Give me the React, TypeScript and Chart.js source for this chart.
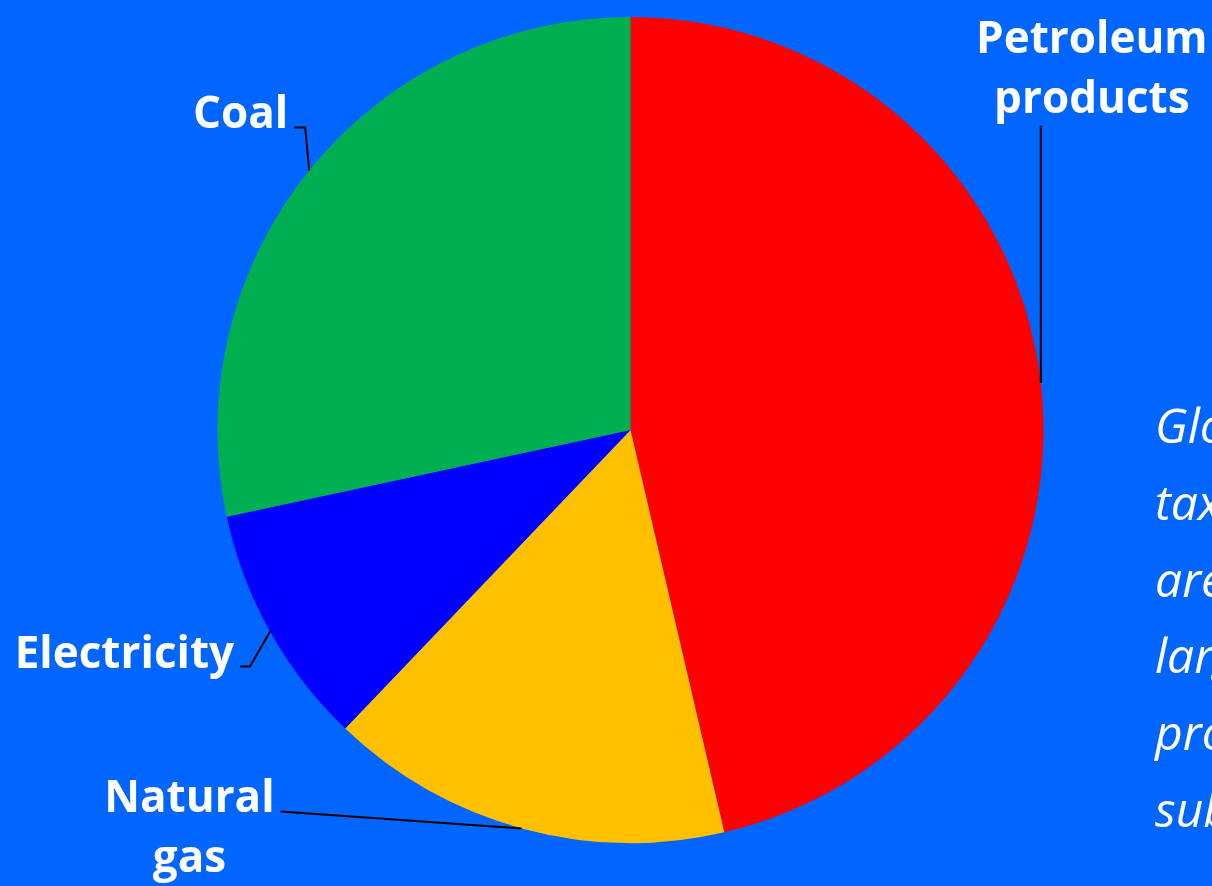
import React, { useEffect, useRef } from "react";
import { Chart, registerables } from "chart.js";

Chart.register(...registerables);

const categories = ["Petroleum products", "Natural gas", "Electricity", "Coal"];
const shares = [46.4, 15.8, 9.5, 28.4];
const colors = ["#FF0000", "#FFC000", "#0000FF", "#00B050"];
const labelLines = [["Petroleum", "products"], ["Natural", "gas"], ["Electricity"], ["Coal"]];
const sideText = ["Globally,", "taxes", "are", "largely", "producer", "subsidies"];

// leader geometry per slice: elbow offset from the slice's outer mid point, horizontal tail, text placement
const leaders = [
  { elbow: [0, -257], tail: 0, place: "above", tx: 51, ty: -13 },
  { elbow: [-241, -17], tail: 0, place: "left" },
  { elbow: [-20, 35], tail: -10, place: "left" },
  { elbow: [-4, -43], tail: -11, place: "left" },
];

const FONT = "bold 44px 'Open Sans', 'Noto Sans', sans-serif";
const LINE_H = 60;

const labelPlugin = {
  id: "leaderLabels",
  afterDraw(chart: any) {
    const ctx = chart.ctx;
    const meta = chart.getDatasetMeta(0);
    ctx.save();
    meta.data.forEach((arc: any, i: number) => {
      const cfg = leaders[i];
      const mid = (arc.startAngle + arc.endAngle) / 2;
      const ax = arc.x + Math.cos(mid) * arc.outerRadius;
      const ay = arc.y + Math.sin(mid) * arc.outerRadius;
      const ex = ax + cfg.elbow[0];
      const ey = ay + cfg.elbow[1];
      const tx = ex + cfg.tail;
      ctx.strokeStyle = "#000000";
      ctx.lineWidth = 2;
      ctx.beginPath();
      ctx.moveTo(ax, ay);
      ctx.lineTo(ex, ey);
      if (cfg.tail) ctx.lineTo(tx, ey);
      ctx.stroke();

      ctx.font = FONT;
      ctx.fillStyle = "#FFFFFF";
      ctx.textAlign = "center";
      ctx.textBaseline = "alphabetic";
      const lines = labelLines[i];
      const maxW = Math.max(...lines.map((l) => ctx.measureText(l).width));
      if (cfg.place === "above") {
        const cx = tx + (cfg.tx || 0);
        const lastBase = ey + (cfg.ty || 0);
        lines.forEach((l, k) => {
          ctx.fillText(l, cx, lastBase - (lines.length - 1 - k) * LINE_H);
        });
      } else {
        const cx = tx - 6 - maxW / 2;
        lines.forEach((l, k) => {
          ctx.fillText(l, cx, ey + 1 + k * LINE_H);
        });
      }
    });
    ctx.restore();
  },
};

export default function App() {
  const ref = useRef<HTMLCanvasElement>(null);
  useEffect(() => {
    if (!ref.current) return;
    const chart = new Chart(ref.current, {
      type: "pie",
      data: {
        labels: categories,
        datasets: [
          {
            data: shares,
            backgroundColor: colors,
            borderWidth: 0,
          },
        ],
      },
      options: {
        responsive: false,
        animation: false,
        layout: { padding: { left: 217, right: 168, top: 17, bottom: 43 } },
        plugins: { legend: { display: false }, tooltip: { enabled: false } },
      },
      plugins: [labelPlugin],
    });
    return () => chart.destroy();
  }, []);

  return (
    <div
      style={{
        position: "fixed",
        left: 0,
        top: 0,
        width: 1212,
        height: 886,
        background: "#0066FF",
        overflow: "hidden",
      }}
    >
      <canvas ref={ref} width={1212} height={886} style={{ position: "absolute", left: 0, top: 0 }} />
      <div
        style={{
          position: "absolute",
          left: 1155,
          top: 387,
          fontFamily: "'Open Sans', 'Noto Sans', sans-serif",
          fontStyle: "italic",
          fontSize: 48,
          lineHeight: "76.8px",
          color: "#FFFFFF",
          whiteSpace: "nowrap",
        }}
      >
        {sideText.map((t, i) => (
          <div key={i}>{t}</div>
        ))}
      </div>
    </div>
  );
}
